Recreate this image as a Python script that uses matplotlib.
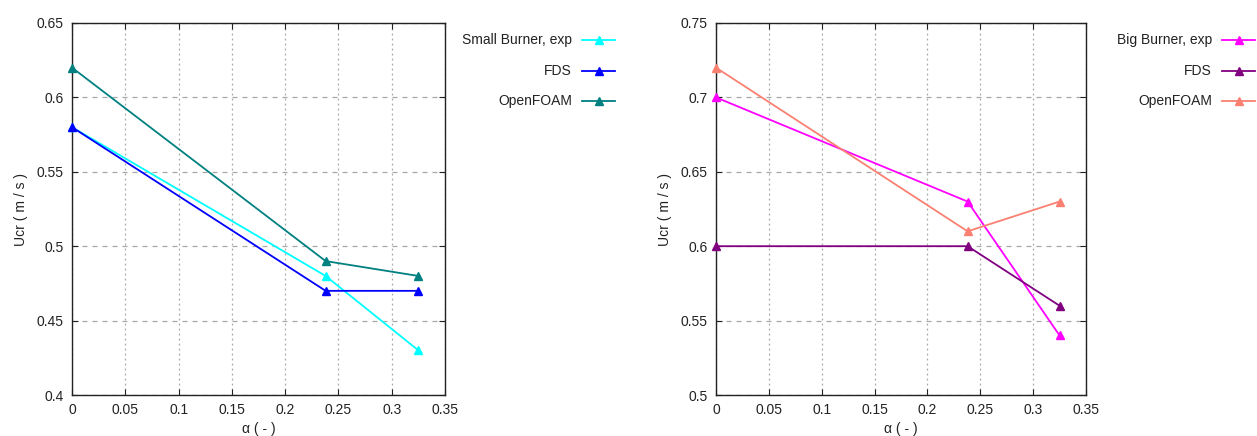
import matplotlib
matplotlib.use("Agg")
import matplotlib.pyplot as plt
from matplotlib.lines import Line2D
from matplotlib.ticker import FuncFormatter, MultipleLocator

plt.rcParams['font.family'] = ['Liberation Sans', 'DejaVu Sans']
plt.rcParams['font.size'] = 10

alpha = [0.0, 0.238, 0.325]

# small burner
small_exp = [0.58, 0.48, 0.43]
small_fds = [0.58, 0.47, 0.47]
small_of = [0.62, 0.49, 0.48]

# big burner
big_exp = [0.70, 0.63, 0.54]
big_fds = [0.60, 0.60, 0.56]
big_of = [0.72, 0.61, 0.63]

left_labels = ["Small Burner, exp", "FDS", "OpenFOAM"]
right_labels = ["Big Burner, exp", "FDS", "OpenFOAM"]
left_colors = ["#00ffff", "#0000ff", "#008080"]
right_colors = ["#ff00ff", "#800080", "#fa8072"]

fig = plt.figure(figsize=(12.57, 4.36), dpi=100)
ax1 = fig.add_axes([72/1257, 41/436, 373/1257, 372/436])
ax2 = fig.add_axes([716/1257, 41/436, 370/1257, 372/436])

fmt = FuncFormatter(lambda v, p: "%g" % round(v, 4))


def draw(ax, series, labels, colors, ylim):
    for ys, c in zip(series, colors):
        ax.plot(alpha, ys, color=c, lw=1.3, marker='^', ms=6, clip_on=False, zorder=3)
    ax.set_xlim(0, 0.35)
    ax.set_ylim(*ylim)
    ax.xaxis.set_major_locator(MultipleLocator(0.05))
    ax.yaxis.set_major_locator(MultipleLocator(0.05))
    ax.xaxis.set_major_formatter(fmt)
    ax.yaxis.set_major_formatter(fmt)
    ax.tick_params(direction='in', top=True, right=True, length=4, colors='#222222',
                   labelsize=10, pad=6)
    ax.grid(axis='x', color='#a8a8a8', ls=(0, (1.5, 2.5)), lw=0.9)
    ax.grid(axis='y', color='#a8a8a8', ls=(0, (4, 4)), lw=0.9)
    for s in ax.spines.values():
        s.set_linewidth(1.0)
        s.set_color('#222222')
    ax.set_xlabel(u"\u03b1 ( - )", labelpad=3, color='#222222')
    ax.set_ylabel("Ucr ( m / s )", labelpad=6, color='#222222')
    # legend to the right, gnuplot style
    for k, (lab, c) in enumerate(zip(labels, colors)):
        yy = 0.955 - k * 0.083
        ax.text(1.34, yy, lab, transform=ax.transAxes, ha='right', va='center',
                fontsize=10, color='#222222')
        ax.add_line(Line2D([1.368, 1.457], [yy, yy], transform=ax.transAxes, color=c,
                           lw=1.3, clip_on=False))
        ax.add_line(Line2D([1.4125], [yy], transform=ax.transAxes, color=c, marker='^',
                           ms=6, clip_on=False))


draw(ax1, [small_exp, small_fds, small_of], left_labels, left_colors, (0.4, 0.65))
draw(ax2, [big_exp, big_fds, big_of], right_labels, right_colors, (0.5, 0.75))

fig.savefig("out.png", dpi=100)
